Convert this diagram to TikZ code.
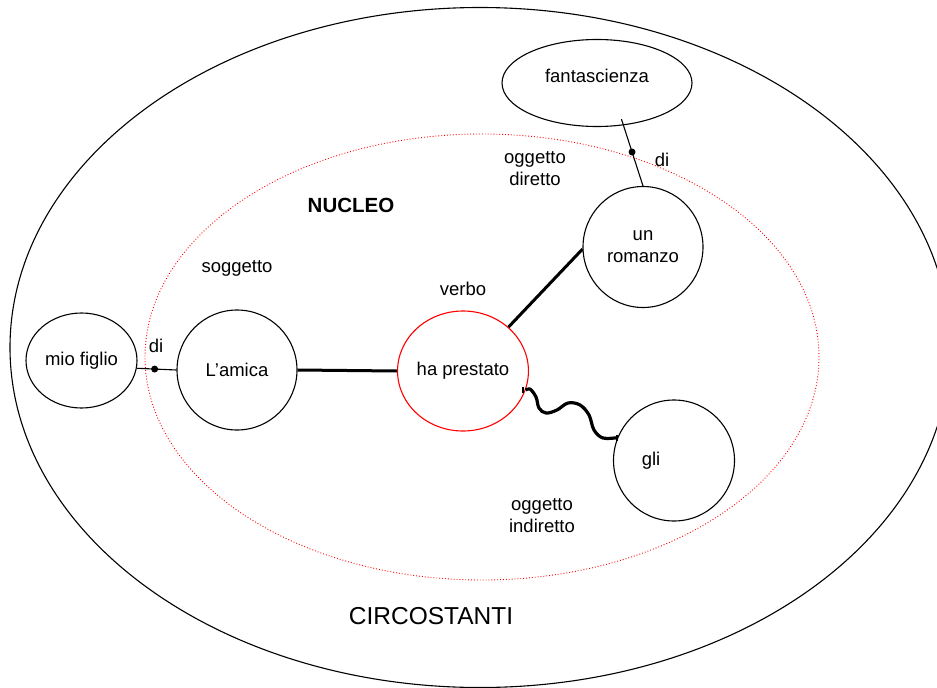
\documentclass[tikz,border=0pt]{standalone}
\usepackage{fontspec}
\setmainfont{Liberation Sans}
\usetikzlibrary{shapes.geometric}
\begin{document}
\begin{tikzpicture}[x=1pt,y=-1pt,
  lbl/.style={font=\fontsize{18.5}{22}\selectfont, align=center, inner sep=0pt},
  roundbox/.style={ellipse, draw=black, line width=1.1pt, inner sep=0pt, font=\fontsize{18.5}{22}\selectfont, align=center},
  thickline/.style={line width=3pt},
  thinline/.style={line width=1.1pt},
  dotmark/.style={circle, fill=black, inner sep=0pt, minimum size=7pt}]
\useasboundingbox (0,0) rectangle (937,688);
% regions
\draw[line width=1.1pt] (480,347.5) ellipse [x radius=470pt, y radius=340pt];
\draw[red, line width=0.9pt, dotted] (482,357) ellipse [x radius=337pt, y radius=223pt];
% nodes
\node[roundbox, minimum width=190pt, minimum height=87pt] (fs) at (597,83) {\raisebox{14pt}{fantascienza}};
\node[roundbox, minimum width=120pt, minimum height=121pt] (ur) at (643,247) {un\\romanzo};
\node[roundbox, draw=red, minimum width=122pt, minimum height=120pt] (hp) at (463,371) {ha prestato};
\node[roundbox, minimum width=120pt, minimum height=120pt] (am) at (237,370) {L’amica};
\node[roundbox, minimum width=111pt, minimum height=95pt] (mf) at (81.5,360.5) {mio figlio};
\node[roundbox, minimum width=121pt, minimum height=121pt] (gl) at (674,460.5) {\hspace*{0pt}\raisebox{-4pt}{gli}\hspace*{46pt}};
% labels
\node[lbl, font=\fontsize{20.5}{24}\selectfont\bfseries] (nuc) at (351,205) {NUCLEO};
\node[lbl] (sog) at (237,268) {soggetto};
\node[lbl] (vrb) at (463,289) {verbo};
\node[lbl, align=center] (od) at (535,169) {oggetto\\diretto};
\node[lbl, align=center] (oi) at (542,516) {oggetto\\indiretto};
\node[lbl] (di1) at (662,160) {di};
\node[lbl] (di2) at (156,346) {di};
\node[lbl, font=\fontsize{24.5}{28}\selectfont] (circ) at (431,616) {CIRCOSTANTI};
% connectors
\draw[thickline] (am.east) -- (hp.west);
\draw[thickline] (hp.44) -- (ur.182);
\draw[thinline] (mf.-8) -- node[dotmark, pos=0.45] (d1) {} (am.west);
\draw[thinline, shorten <=-6.5pt] (fs.-58) -- node[dotmark, pos=0.44] (d2) {} (ur.north);
\draw[line width=3.2pt, line join=round] plot[smooth, tension=0.6] coordinates {(hp.-17) (530,389) (536,397) (539,408) (546,413) (557,410) (568,403) (580,405) (589,415) (594,430) (603,438) (gl.158)};
\draw[line width=2pt] (hp.-17) ++(-3,-3) -- ++(0,6);
\draw[line width=2pt] (gl.158) ++(0,-3) -- ++(0,6);
\end{tikzpicture}
\end{document}
